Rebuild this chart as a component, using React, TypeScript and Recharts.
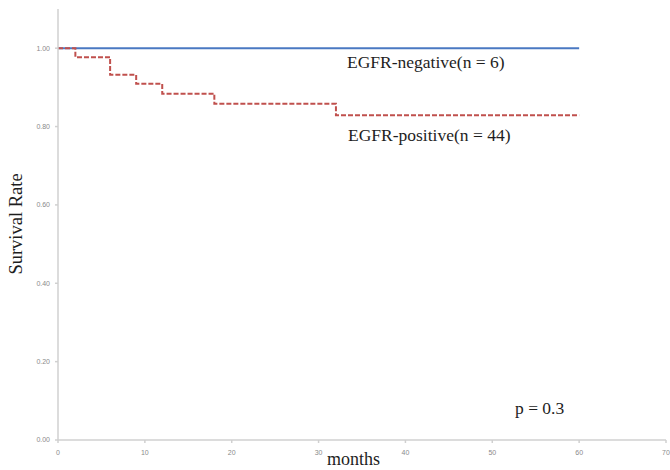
import { Line, LineChart, XAxis, YAxis } from 'recharts'

// survival step points (months, rate)
const negMonths = [0, 60]
const negRate = [1.0, 1.0]

const posMonths = [0, 2, 6, 9, 12, 18, 32, 60]
const posRate = [1.0, 0.977, 0.932, 0.909, 0.884, 0.858, 0.829, 0.829]

const xTicks = [0, 10, 20, 30, 40, 50, 60, 70]
const yTicks = [0, 0.2, 0.4, 0.6, 0.8, 1.0]

const negData = negMonths.map((m, i) => ({ month: m, rate: negRate[i] }))
const posData = posMonths.map((m, i) => ({ month: m, rate: posRate[i] }))

const AXIS = '#d0d0d0'
const TICK = { fontSize: 7, fill: '#8a8a8a', fontFamily: 'Arial, sans-serif' }
const SERIF = '"Liberation Serif", "Times New Roman", serif'

const note = (left: number, top: number, size = 17.5): React.CSSProperties => ({
  position: 'absolute',
  left,
  top,
  fontFamily: SERIF,
  fontSize: size,
  color: '#1e1e1e',
  whiteSpace: 'nowrap',
  lineHeight: 1,
})

export default function App() {
  return (
    <div style={{ position: 'absolute', left: 0, top: 0, width: 670, height: 470, background: '#fff', overflow: 'hidden' }}>
      <LineChart width={670} height={470} margin={{ top: 9, right: 4, bottom: 0, left: 0 }}>
        <XAxis
          type="number"
          dataKey="month"
          domain={[0, 70]}
          ticks={xTicks}
          allowDuplicatedCategory={false}
          height={30}
          stroke={AXIS}
          strokeWidth={1.5}
          tickSize={3}
          tickMargin={7}
          tick={TICK}
        />
        <YAxis
          type="number"
          dataKey="rate"
          domain={[0, 1.1]}
          ticks={yTicks}
          width={58}
          stroke={AXIS}
          strokeWidth={1.5}
          tickSize={3}
          tickMargin={5}
          tick={TICK}
          tickFormatter={(v: number) => v.toFixed(2)}
        />
        <Line
          data={negData}
          dataKey="rate"
          type="stepAfter"
          stroke="#4a78c2"
          strokeWidth={2}
          dot={false}
          isAnimationActive={false}
        />
        <Line
          data={posData}
          dataKey="rate"
          type="stepAfter"
          stroke="#c0504d"
          strokeWidth={2}
          strokeDasharray="5 2"
          dot={false}
          isAnimationActive={false}
        />
      </LineChart>
      <div style={note(347, 54)}>EGFR-negative(n = 6)</div>
      <div style={note(348, 127)}>EGFR-positive(n = 44)</div>
      <div style={note(515, 400)}>p = 0.3</div>
      <div style={note(327, 450, 18)}>months</div>
      <div
        style={{
          ...note(16, 224, 18.5),
          transform: 'translate(-50%, -50%) rotate(-90deg)',
        }}
      >
        Survival Rate
      </div>
    </div>
  )
}
